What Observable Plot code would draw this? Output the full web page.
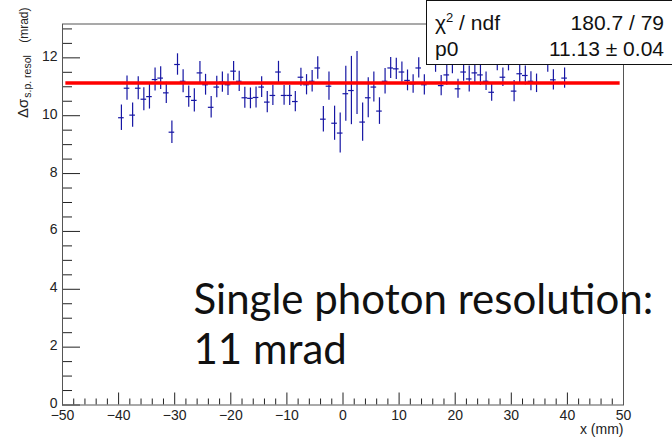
<!DOCTYPE html>
<html>
<head>
<meta charset="utf-8">
<script src="https://cdn.jsdelivr.net/npm/d3@7"></script>
<script src="https://cdn.jsdelivr.net/npm/@observablehq/plot@0.6"></script>
<style>
  html, body { margin: 0; padding: 0; background: #fff; overflow: hidden; }
  #chart { position: relative; width: 672px; height: 440px; overflow: hidden; }
  .stats {
    position: absolute; left: 426px; top: 0; width: 270px; height: 65px;
    background: #fff; border: 1px solid #111; box-sizing: border-box;
    font-family: "Liberation Sans", Arial, sans-serif; font-size: 21px; line-height: 1; color: #111;
  }
  .stats span { position: absolute; white-space: nowrap; }
  .stats sup { font-size: 13px; vertical-align: 0; position: relative; top: -8px; }
</style>
</head>
<body>
<div id="chart"></div>
<script>
// Bin centres (mm) of the x scan
const binCentres = [
  -39.5, -38.5, -37.5, -36.5, -35.5, -34.5, -33.5, -32.5, -31.5, -30.5,
  -29.5, -28.5, -27.5, -26.5, -25.5, -24.5, -23.5, -22.5, -21.5, -20.5,
  -19.5, -18.5, -17.5, -16.5, -15.5, -14.5, -13.5, -12.5, -11.5, -10.5,
  -9.5, -8.5, -7.5, -6.5, -5.5, -4.5, -3.5, -2.5, -1.5, -0.5,
  0.5, 1.5, 2.5, 3.5, 4.5, 5.5, 6.5, 7.5, 8.5, 9.5,
  10.5, 11.5, 12.5, 13.5, 14.5, 15.5, 16.5, 17.5, 18.5, 19.5,
  20.5, 21.5, 22.5, 23.5, 24.5, 25.5, 26.5, 27.5, 28.5, 29.5,
  30.5, 31.5, 32.5, 33.5, 34.5, 35.5, 36.5, 37.5, 38.5, 39.5
];
// Single-photon resolution per bin (mrad)
const resolution = [
  9.93, 10.95, 10.02, 10.95, 10.57, 10.66, 11.25, 11.30, 10.79, 9.43,
  11.77, 11.19, 10.66, 10.53, 11.48, 11.07, 10.29, 10.99, 11.16, 11.07,
  11.54, 11.19, 10.62, 10.60, 10.63, 10.99, 10.47, 10.70, 11.51, 10.70,
  10.70, 10.49, 11.33, 11.07, 11.19, 11.65, 9.88, 11.02, 9.74, 9.40,
  10.76, 10.87, 11.13, 9.78, 10.62, 10.99, 10.16, 11.19, 11.65, 11.62,
  11.51, 11.22, 11.10, 11.65, 11.07, 12.20, 11.90, 11.04, 11.41, 11.85,
  10.93, 11.51, 11.27, 11.48, 11.41, 11.19, 10.81, 11.95, 11.33, 11.95,
  10.85, 11.45, 11.39, 11.19, 11.12, 12.25, 11.90, 11.24, 12.20, 11.30
];
// Statistical uncertainty per bin (mrad)
const resolutionErr = [
  0.44, 0.42, 0.42, 0.40, 0.40, 0.43, 0.40, 0.39, 0.37, 0.39,
  0.37, 0.40, 0.37, 0.40, 0.39, 0.36, 0.37, 0.37, 0.35, 0.37,
  0.33, 0.35, 0.36, 0.36, 0.36, 0.36, 0.37, 0.35, 0.37, 0.34,
  0.35, 0.35, 0.31, 0.35, 0.37, 0.39, 0.44, 0.49, 0.59, 0.69,
  0.95, 1.18, 1.09, 0.66, 0.69, 0.52, 0.46, 0.44, 0.36, 0.37,
  0.35, 0.36, 0.32, 0.35, 0.35, 0.40, 0.40, 0.35, 0.36, 0.40,
  0.33, 0.32, 0.45, 0.35, 0.36, 0.32, 0.31, 0.40, 0.32, 0.40,
  0.37, 0.32, 0.33, 0.33, 0.32, 0.40, 0.40, 0.35, 0.40, 0.35
];
const binHalfWidth = 0.5;

// Constant fit (pol0)
const fitP0 = 11.13;
const fitP0Err = 0.04;
const fitChi2 = 180.7;
const fitNdf = 79;
const fitRange = [-49.4, 49.4];

// Axes
const xDomain = [-50, 50];
const yDomain = [0, 13.17];
const xMajor = [-50, -40, -30, -20, -10, 0, 10, 20, 30, 40, 50];
const yMajor = [0, 2, 4, 6, 8, 10, 12];
const xMinor = d3.range(-50, 50.01, 2).filter(v => v % 10 !== 0);
const yMinor = d3.range(0, 13.01, 0.5).filter(v => v % 2 !== 0);

const note = "Single photon resolution:\n11 mrad";

const rows = binCentres.map((x, i) => ({x, v: resolution[i], e: resolutionErr[i]}));

const W = 672, H = 440;
const mL = 62, mR = 49, mT = 23.5, mB = 35.5;
const innerW = W - mL - mR, innerH = H - mT - mB;
const pointColor = "#1616a4";
const axisColor = "#222";

const chart = Plot.plot({
  width: W, height: H,
  marginLeft: mL, marginRight: mR, marginTop: mT, marginBottom: mB,
  x: {domain: xDomain},
  y: {domain: yDomain},
  style: {fontFamily: "'Liberation Sans', Arial, sans-serif", fontSize: "14px", color: axisColor, background: "#fff"},
  marks: [
    // error bars
    Plot.ruleX(rows, {x: "x", y1: d => d.v - d.e, y2: d => d.v + d.e, stroke: pointColor, strokeWidth: 1.2}),
    Plot.ruleY(rows, {y: "v", x1: d => d.x - binHalfWidth, x2: d => d.x + binHalfWidth, stroke: pointColor, strokeWidth: 1.2}),
    // fitted constant
    Plot.ruleY([fitP0], {x1: fitRange[0], x2: fitRange[1], stroke: "#ff0000", strokeWidth: 3.5}),
    // inward ticks
    Plot.tickY(yMinor, {y: d => d, insetRight: innerW - 10, stroke: axisColor}),
    Plot.tickY(yMajor, {y: d => d, insetRight: innerW - 18, stroke: axisColor}),
    Plot.tickX(xMinor, {x: d => d, insetTop: innerH - 6, stroke: axisColor}),
    Plot.tickX(xMajor, {x: d => d, insetTop: innerH - 12, stroke: axisColor}),
    Plot.frame({stroke: "#555"}),
    Plot.axisY(yMajor, {anchor: "left", tickSize: 0, tickPadding: 5, dy: -1.5, label: null, fontSize: 14}),
    Plot.axisX(xMajor, {anchor: "bottom", tickSize: 0, tickPadding: 5, label: null, fontSize: 14}),
    // axis titles
    Plot.text(["x (mm)"], {frameAnchor: "bottom-right", textAnchor: "end", lineAnchor: "bottom", dy: 28.5, fontSize: 14, fill: axisColor}),
    Plot.text(["Δσ"], {frameAnchor: "top-left", rotate: -90, textAnchor: "end", lineAnchor: "bottom", dx: -35, dy: -16.5, fontSize: 15, fill: axisColor, className: "ylab"}),
    // annotation
    Plot.text([note], {frameAnchor: "top-left", textAnchor: "start", lineAnchor: "top", dx: 131, dy: 254.5,
      fontSize: 42, lineHeight: 1.19, fontFamily: "Lato", fill: "#111"})
  ]
});

// y title with subscript
const yt = d3.select(chart).select("g.ylab text");
yt.text(null);
yt.append("tspan").text("Δσ");
yt.append("tspan").attr("font-size", 10.5).attr("dy", 3).attr("dx", 1).text("s.p. resol");
yt.append("tspan").attr("font-size", 12).attr("dy", -3).attr("dx", 9).text(" (mrad)");

const holder = document.getElementById("chart");
holder.appendChild(chart);

// statistics box
const stats = document.createElement("div");
stats.className = "stats";
stats.innerHTML =
  `<span style="left:8px;top:11px">χ<sup>2</sup> / ndf</span>` +
  `<span style="right:31px;top:11px">${fitChi2} / ${fitNdf}</span>` +
  `<span style="left:8px;top:37px">p0</span>` +
  `<span style="right:31px;top:37px">${fitP0.toFixed(2)} ± ${fitP0Err.toFixed(2)}</span>`;
holder.appendChild(stats);
</script>
</body>
</html>
